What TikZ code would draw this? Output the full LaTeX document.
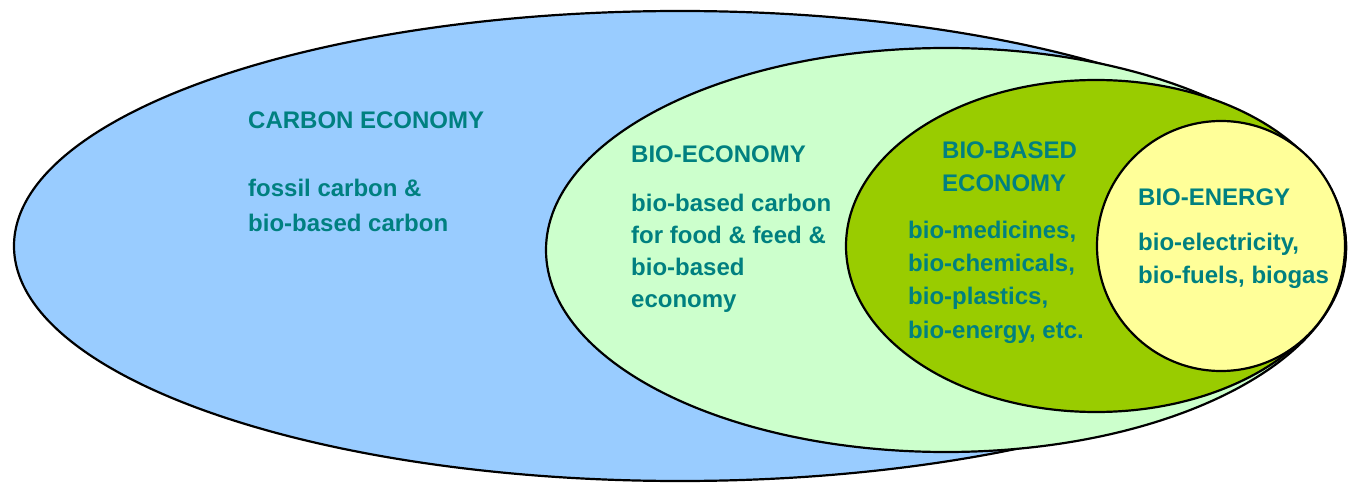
\documentclass[tikz,border=0pt]{standalone}
\usepackage{fontspec}
\setmainfont{Liberation Sans}
\definecolor{outerblue}{HTML}{99CCFF}
\definecolor{biolight}{HTML}{CCFFCC}
\definecolor{biogreen}{HTML}{99CC00}
\definecolor{bioyellow}{HTML}{FFFF99}
\definecolor{teal}{RGB}{0,128,128}
\tikzset{
  ring/.style={draw=black, line width=2.2pt},
  lbl/.style={anchor=base west, inner sep=0pt, align=left, text=teal,
    font=\bfseries\fontsize{24}{33}\selectfont}
}
\begin{document}
\begin{tikzpicture}[x=1pt,y=-1pt]
\useasboundingbox (0,0) rectangle (1357,489);
\draw[ring, fill=outerblue] (680,246) ellipse [x radius=666pt, y radius=235pt];
\draw[ring, fill=biolight] (946,250) ellipse [x radius=400pt, y radius=202pt];
\draw[ring, fill=biogreen] (1096,246) ellipse [x radius=250pt, y radius=166pt];
\draw[ring, fill=bioyellow] (1221,246) ellipse [x radius=124pt, y radius=125pt];
% base anchor of a multi-line node = baseline of its last line
\node[lbl] (ceT) at (248,129) {CARBON ECONOMY};
\node[lbl, font=\bfseries\fontsize{24}{35}\selectfont] (ceB) at (248,231) {fossil carbon \&\\bio-based carbon};
\node[lbl] (beT) at (631,163) {BIO-ECONOMY};
\node[lbl, font=\bfseries\fontsize{24}{32}\selectfont] (beB) at (631,307) {bio-based carbon\\for food \& feed \&\\bio-based\\economy};
\node[lbl, font=\bfseries\fontsize{24}{32.5}\selectfont] (bbT) at (942,191.5) {BIO-BASED\\ECONOMY};
\node[lbl, font=\bfseries\fontsize{24}{33.3}\selectfont] (bbB) at (908,338) {bio-medicines,\\bio-chemicals,\\bio-plastics,\\bio-energy, etc.};
\node[lbl] (enT) at (1138,206) {BIO-ENERGY};
\node[lbl] (enB) at (1138,283) {bio-electricity,\\bio-fuels, biogas};
\end{tikzpicture}
\end{document}
